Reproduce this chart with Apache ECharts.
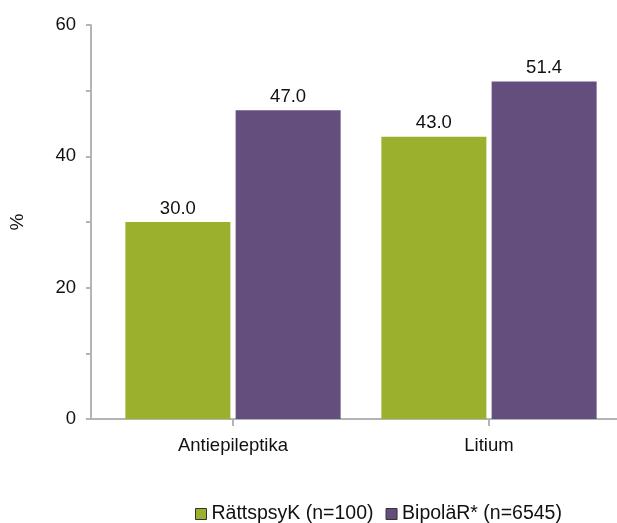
<!DOCTYPE html>
<html>
<head>
<meta charset="utf-8">
<script src="https://cdn.jsdelivr.net/npm/echarts@6/dist/echarts.min.js"></script>
<style>html,body{margin:0;padding:0;background:#fff;}#c{width:617px;height:523px;}</style>
</head>
<body>
<div id="c"></div>
<script>
const categories = ['Antiepileptika', 'Litium'];
const seriesNames = ['RättspsyK (n=100)', 'BipoläR* (n=6545)'];
const rattspsykValues = [30.0, 43.0];
const bipolarValues = [47.0, 51.4];
const yTicks = [0, 20, 40, 60];

const FONT = 'Liberation Sans, Arial, sans-serif';
const TXT = '#111';
const AXIS = '#b4b4b4';

const chart = echarts.init(document.getElementById('c'), null, {renderer: 'canvas'});
const labelCfg = {
  show: true, position: 'top', distance: 4,
  fontFamily: FONT, fontSize: 18.5, color: TXT,
  formatter: p => p.value.toFixed(1)
};
chart.setOption({
  animation: false,
  backgroundColor: '#fff',
  grid: {left: 102, right: 0, top: 25, bottom: 104, containLabel: false},
  legend: {
    left: 190, top: 499,
    itemWidth: 11, itemHeight: 11, itemGap: 12,
    icon: 'rect',
    itemStyle: {borderColor: '#333', borderWidth: 1},
    textStyle: {fontFamily: FONT, fontSize: 19.5, color: TXT},
    data: seriesNames
  },
  xAxis: {
    type: 'category', data: categories,
    axisLine: {show: false},
    axisTick: {show: true, alignWithLabel: true, length: 7, lineStyle: {color: AXIS, width: 2}},
    axisLabel: {fontFamily: FONT, fontSize: 18.5, color: TXT, margin: 17}
  },
  yAxis: {
    type: 'value', min: 0, max: 60, interval: 10, offset: 14,
    name: '%', nameLocation: 'middle', nameRotate: 90, nameGap: 64,
    nameTextStyle: {fontFamily: FONT, fontSize: 19, color: TXT},
    axisLine: {show: true, lineStyle: {color: AXIS, width: 2}},
    axisTick: {show: true, length: 5, lineStyle: {color: AXIS, width: 2}},
    splitLine: {show: false},
    axisLabel: {
      fontFamily: FONT, fontSize: 18.5, color: TXT, margin: 15,
      formatter: v => (yTicks.indexOf(v) >= 0 ? String(v) : '')
    }
  },
  series: [
    {name: seriesNames[0], type: 'bar', data: rattspsykValues, barWidth: 105, barGap: '5%',
     itemStyle: {color: '#9BB02D'}, label: labelCfg},
    {name: seriesNames[1], type: 'bar', data: bipolarValues, barWidth: 105, barGap: '5%',
     itemStyle: {color: '#634E7E'}, label: labelCfg}
  ]
});
const y0 = chart.convertToPixel({yAxisIndex: 0}, 0);
chart.setOption({
  graphic: [{
    type: 'line', silent: true,
    shape: {x1: 88, y1: y0, x2: 617, y2: y0},
    style: {stroke: AXIS, lineWidth: 2}
  }]
});
</script>
</body>
</html>
